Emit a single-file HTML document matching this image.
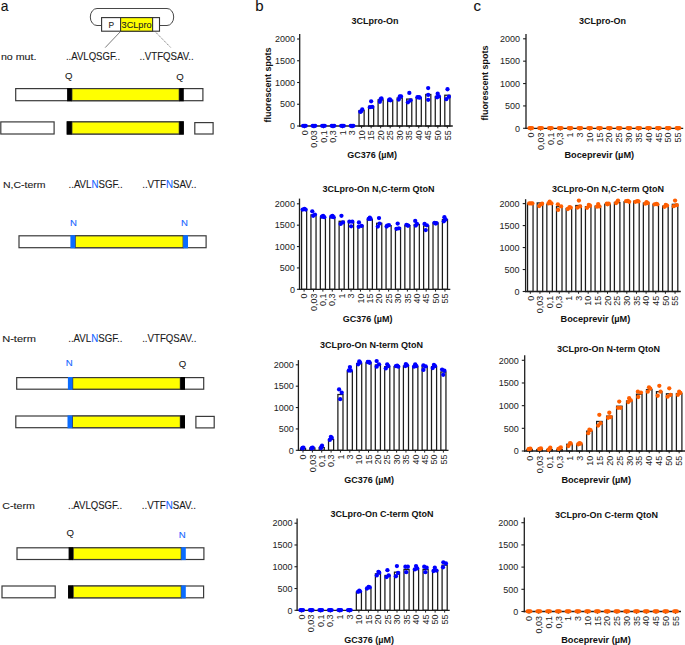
<!DOCTYPE html>
<html><head><meta charset="utf-8"><style>
html,body{margin:0;padding:0;background:#fff;}
body{width:685px;height:645px;overflow:hidden;}
svg{display:block;font-family:"Liberation Sans", sans-serif;}
</style></head><body>
<svg width="685" height="645" viewBox="0 0 685 645">
<rect width="685" height="645" fill="#fff"/>
<text x="0.7" y="10.8" font-size="15" fill="#111" stroke="#111" stroke-width="0.1" text-anchor="start" textLength="7.7" lengthAdjust="spacingAndGlyphs">a</text>
<text x="255.2" y="10.8" font-size="15" fill="#111" stroke="#111" stroke-width="0.1" text-anchor="start">b</text>
<text x="473.6" y="10.8" font-size="15" fill="#111" stroke="#111" stroke-width="0.1" text-anchor="start">c</text>
<path d="M101.5 25.5 H97 A6.7 8.5 0 0 1 97 8.5 H167 A6.7 8.5 0 0 1 167 25.5 H159.5" fill="none" stroke="#333" stroke-width="0.9"/>
<rect x="101.6" y="17.6" width="57.9" height="13.6" fill="#fff" stroke="#333" stroke-width="1.1"/>
<rect x="120.6" y="17.6" width="32.0" height="13.6" fill="#ffff00" stroke="#333" stroke-width="1.1"/>
<text x="108.6" y="27.8" font-size="9.5" fill="#222" stroke="#222" stroke-width="0.1" text-anchor="start" textLength="5.6" lengthAdjust="spacingAndGlyphs">P</text>
<text x="121.6" y="27.8" font-size="9.7" fill="#222" stroke="#222" stroke-width="0.1" text-anchor="start" textLength="30" lengthAdjust="spacingAndGlyphs">3CLpro</text>
<line x1="120.5" y1="31.5" x2="105.2" y2="47.6" stroke="#444" stroke-width="0.7"/>
<line x1="155" y1="31.5" x2="170.8" y2="47.6" stroke="#444" stroke-width="0.7" stroke-dasharray="1.3 0.9"/>
<text x="0.9" y="60" font-size="9.9" fill="#1a1a1a" stroke="#1a1a1a" stroke-width="0.1" text-anchor="start" textLength="35.6" lengthAdjust="spacingAndGlyphs">no mut.</text>
<text x="65.9" y="60" font-size="10.2" fill="#1a1a1a" stroke="#1a1a1a" stroke-width="0.1" text-anchor="start" textLength="54.2" lengthAdjust="spacingAndGlyphs">..AVLQSGF..</text>
<text x="139.5" y="60" font-size="10.2" fill="#1a1a1a" stroke="#1a1a1a" stroke-width="0.1" text-anchor="start" textLength="54.2" lengthAdjust="spacingAndGlyphs">..VTFQSAV..</text>
<text x="65" y="79.4" font-size="9.6" fill="#1a1a1a" stroke="#1a1a1a" stroke-width="0.1" text-anchor="start">Q</text>
<text x="176.3" y="80" font-size="9.6" fill="#1a1a1a" stroke="#1a1a1a" stroke-width="0.1" text-anchor="start">Q</text>
<rect x="15.7" y="88.6" width="187.2" height="12.1" fill="#fff" stroke="#3a3a3a" stroke-width="1.2"/>
<rect x="71.8" y="88.6" width="107.5" height="12.1" fill="#ffff00" stroke="#3a3a3a" stroke-width="1.2"/>
<rect x="67.1" y="88" width="4.7" height="13.3" fill="#000"/>
<rect x="179.3" y="88" width="4.5" height="13.3" fill="#000"/>
<rect x="0.8" y="121.9" width="53.3" height="12.1" fill="#fff" stroke="#3a3a3a" stroke-width="1.2"/>
<rect x="67.3" y="121.9" width="115.9" height="12.1" fill="#fff" stroke="#3a3a3a" stroke-width="1.2"/>
<rect x="71.8" y="121.9" width="107.5" height="12.1" fill="#ffff00" stroke="#3a3a3a" stroke-width="1.2"/>
<rect x="66.7" y="121.3" width="5.1" height="13.3" fill="#000"/>
<rect x="179.3" y="121.3" width="4.5" height="13.3" fill="#000"/>
<rect x="194.8" y="122.6" width="18.3" height="11.4" fill="#fff" stroke="#3a3a3a" stroke-width="1.2"/>
<text x="2.9" y="188.1" font-size="9.9" fill="#1a1a1a" stroke="#1a1a1a" stroke-width="0.1" text-anchor="start" textLength="42.6" lengthAdjust="spacingAndGlyphs">N,C-term</text>
<text x="68.5" y="188.1" font-size="10.2" fill="#1a1a1a" stroke="#1a1a1a" stroke-width="0.1" textLength="54.2" lengthAdjust="spacingAndGlyphs">..AVL<tspan fill="#1464ff" stroke="#1464ff">N</tspan>SGF..</text>
<text x="142.2" y="188.1" font-size="10.2" fill="#1a1a1a" stroke="#1a1a1a" stroke-width="0.1" textLength="54.2" lengthAdjust="spacingAndGlyphs">..VTF<tspan fill="#1464ff" stroke="#1464ff">N</tspan>SAV..</text>
<text x="70" y="225.8" font-size="9.6" fill="#1464ff" stroke="#1464ff" stroke-width="0.1" text-anchor="start">N</text>
<text x="181" y="225.8" font-size="9.6" fill="#1464ff" stroke="#1464ff" stroke-width="0.1" text-anchor="start">N</text>
<rect x="19" y="235.8" width="187.1" height="11.9" fill="#fff" stroke="#3a3a3a" stroke-width="1.2"/>
<rect x="75.2" y="235.8" width="108" height="11.9" fill="#ffff00" stroke="#3a3a3a" stroke-width="1.2"/>
<rect x="70.4" y="235.2" width="4.8" height="13.1" fill="#0a6cff"/>
<rect x="183.2" y="235.2" width="4.8" height="13.1" fill="#0a6cff"/>
<text x="2.2" y="342.3" font-size="9.9" fill="#1a1a1a" stroke="#1a1a1a" stroke-width="0.1" text-anchor="start" textLength="33.8" lengthAdjust="spacingAndGlyphs">N-term</text>
<text x="68.2" y="342.3" font-size="10.2" fill="#1a1a1a" stroke="#1a1a1a" stroke-width="0.1" textLength="54.2" lengthAdjust="spacingAndGlyphs">..AVL<tspan fill="#1464ff" stroke="#1464ff">N</tspan>SGF..</text>
<text x="142.2" y="342.3" font-size="10.2" fill="#1a1a1a" stroke="#1a1a1a" stroke-width="0.1" text-anchor="start" textLength="54.2" lengthAdjust="spacingAndGlyphs">..VTFQSAV..</text>
<text x="65.8" y="365.9" font-size="9.6" fill="#1464ff" stroke="#1464ff" stroke-width="0.1" text-anchor="start">N</text>
<text x="178.7" y="367" font-size="9.6" fill="#1a1a1a" stroke="#1a1a1a" stroke-width="0.1" text-anchor="start">Q</text>
<rect x="16.7" y="377.6" width="187" height="11.6" fill="#fff" stroke="#3a3a3a" stroke-width="1.2"/>
<rect x="72.6" y="377.6" width="107.8" height="11.6" fill="#ffff00" stroke="#3a3a3a" stroke-width="1.2"/>
<rect x="67.9" y="377" width="4.7" height="12.8" fill="#0a6cff"/>
<rect x="180.4" y="377" width="4.6" height="12.8" fill="#000"/>
<rect x="15.8" y="416" width="168.6" height="11.7" fill="#fff" stroke="#3a3a3a" stroke-width="1.2"/>
<rect x="72.4" y="416" width="108" height="11.7" fill="#ffff00" stroke="#3a3a3a" stroke-width="1.2"/>
<rect x="67.5" y="415.4" width="4.9" height="12.9" fill="#0a6cff"/>
<rect x="180.4" y="415.4" width="4.6" height="12.9" fill="#000"/>
<rect x="195.9" y="416.4" width="18.3" height="11.5" fill="#fff" stroke="#3a3a3a" stroke-width="1.2"/>
<text x="2.3" y="509.2" font-size="9.9" fill="#1a1a1a" stroke="#1a1a1a" stroke-width="0.1" text-anchor="start" textLength="32.5" lengthAdjust="spacingAndGlyphs">C-term</text>
<text x="68" y="509.2" font-size="10.2" fill="#1a1a1a" stroke="#1a1a1a" stroke-width="0.1" text-anchor="start" textLength="54.2" lengthAdjust="spacingAndGlyphs">..AVLQSGF..</text>
<text x="141.8" y="509.2" font-size="10.2" fill="#1a1a1a" stroke="#1a1a1a" stroke-width="0.1" textLength="54.2" lengthAdjust="spacingAndGlyphs">..VTF<tspan fill="#1464ff" stroke="#1464ff">N</tspan>SAV..</text>
<text x="66.4" y="536" font-size="9.6" fill="#1a1a1a" stroke="#1a1a1a" stroke-width="0.1" text-anchor="start">Q</text>
<text x="178.7" y="537.8" font-size="9.6" fill="#1464ff" stroke="#1464ff" stroke-width="0.1" text-anchor="start">N</text>
<rect x="17" y="547.8" width="186.9" height="11.7" fill="#fff" stroke="#3a3a3a" stroke-width="1.2"/>
<rect x="73.1" y="547.8" width="108.2" height="11.7" fill="#ffff00" stroke="#3a3a3a" stroke-width="1.2"/>
<rect x="68.6" y="547.2" width="4.5" height="12.9" fill="#000"/>
<rect x="181.3" y="547.2" width="4.5" height="12.9" fill="#0a6cff"/>
<rect x="2" y="586" width="53.2" height="11.8" fill="#fff" stroke="#3a3a3a" stroke-width="1.2"/>
<rect x="68.7" y="586" width="134.9" height="11.8" fill="#fff" stroke="#3a3a3a" stroke-width="1.2"/>
<rect x="73.1" y="586" width="108.2" height="11.8" fill="#ffff00" stroke="#3a3a3a" stroke-width="1.2"/>
<rect x="68.1" y="585.4" width="5" height="13" fill="#000"/>
<rect x="181.3" y="585.4" width="4.5" height="13" fill="#0a6cff"/>
<rect x="359.03" y="110.56" width="5.1" height="15.44" fill="#fff" stroke="#1c1c1c" stroke-width="1.25"/>
<rect x="368.56" y="106.42" width="5.1" height="19.58" fill="#fff" stroke="#1c1c1c" stroke-width="1.25"/>
<rect x="378.09" y="99.83" width="5.1" height="26.17" fill="#fff" stroke="#1c1c1c" stroke-width="1.25"/>
<rect x="387.62" y="100.29" width="5.1" height="25.71" fill="#fff" stroke="#1c1c1c" stroke-width="1.25"/>
<rect x="397.15" y="97.99" width="5.1" height="28.01" fill="#fff" stroke="#1c1c1c" stroke-width="1.25"/>
<rect x="406.68" y="99.06" width="5.1" height="26.94" fill="#fff" stroke="#1c1c1c" stroke-width="1.25"/>
<rect x="416.21" y="97.69" width="5.1" height="28.31" fill="#fff" stroke="#1c1c1c" stroke-width="1.25"/>
<rect x="425.74" y="94.47" width="5.1" height="31.53" fill="#fff" stroke="#1c1c1c" stroke-width="1.25"/>
<rect x="435.27" y="96.46" width="5.1" height="29.54" fill="#fff" stroke="#1c1c1c" stroke-width="1.25"/>
<rect x="444.8" y="95.23" width="5.1" height="30.77" fill="#fff" stroke="#1c1c1c" stroke-width="1.25"/>
<line x1="299.7" y1="33.9" x2="299.7" y2="126.65" stroke="#1e1e1e" stroke-width="1.3"/>
<line x1="299.05" y1="126" x2="452.8" y2="126" stroke="#1e1e1e" stroke-width="1.3"/>
<line x1="297.1" y1="126" x2="299.7" y2="126" stroke="#1e1e1e" stroke-width="1.1"/>
<text x="295.1" y="129.2" text-anchor="end" font-size="9" fill="#222">0</text>
<line x1="297.1" y1="104.25" x2="299.7" y2="104.25" stroke="#1e1e1e" stroke-width="1.1"/>
<text x="295.1" y="107.45" text-anchor="end" font-size="9" fill="#222">500</text>
<line x1="297.1" y1="82.5" x2="299.7" y2="82.5" stroke="#1e1e1e" stroke-width="1.1"/>
<text x="295.1" y="85.7" text-anchor="end" font-size="9" fill="#222">1000</text>
<line x1="297.1" y1="60.75" x2="299.7" y2="60.75" stroke="#1e1e1e" stroke-width="1.1"/>
<text x="295.1" y="63.95" text-anchor="end" font-size="9" fill="#222">1500</text>
<line x1="297.1" y1="39" x2="299.7" y2="39" stroke="#1e1e1e" stroke-width="1.1"/>
<text x="295.1" y="42.2" text-anchor="end" font-size="9" fill="#222">2000</text>
<line x1="304.4" y1="126" x2="304.4" y2="128.3" stroke="#1e1e1e" stroke-width="1"/>
<text transform="translate(307.6 130.3) rotate(-90)" text-anchor="end" font-size="9" fill="#222">0</text>
<line x1="313.93" y1="126" x2="313.93" y2="128.3" stroke="#1e1e1e" stroke-width="1"/>
<text transform="translate(317.13 130.3) rotate(-90)" text-anchor="end" font-size="9" fill="#222">0,03</text>
<line x1="323.46" y1="126" x2="323.46" y2="128.3" stroke="#1e1e1e" stroke-width="1"/>
<text transform="translate(326.66 130.3) rotate(-90)" text-anchor="end" font-size="9" fill="#222">0,1</text>
<line x1="332.99" y1="126" x2="332.99" y2="128.3" stroke="#1e1e1e" stroke-width="1"/>
<text transform="translate(336.19 130.3) rotate(-90)" text-anchor="end" font-size="9" fill="#222">0,3</text>
<line x1="342.52" y1="126" x2="342.52" y2="128.3" stroke="#1e1e1e" stroke-width="1"/>
<text transform="translate(345.72 130.3) rotate(-90)" text-anchor="end" font-size="9" fill="#222">1</text>
<line x1="352.05" y1="126" x2="352.05" y2="128.3" stroke="#1e1e1e" stroke-width="1"/>
<text transform="translate(355.25 130.3) rotate(-90)" text-anchor="end" font-size="9" fill="#222">3</text>
<line x1="361.58" y1="126" x2="361.58" y2="128.3" stroke="#1e1e1e" stroke-width="1"/>
<text transform="translate(364.78 130.3) rotate(-90)" text-anchor="end" font-size="9" fill="#222">10</text>
<line x1="371.11" y1="126" x2="371.11" y2="128.3" stroke="#1e1e1e" stroke-width="1"/>
<text transform="translate(374.31 130.3) rotate(-90)" text-anchor="end" font-size="9" fill="#222">15</text>
<line x1="380.64" y1="126" x2="380.64" y2="128.3" stroke="#1e1e1e" stroke-width="1"/>
<text transform="translate(383.84 130.3) rotate(-90)" text-anchor="end" font-size="9" fill="#222">20</text>
<line x1="390.17" y1="126" x2="390.17" y2="128.3" stroke="#1e1e1e" stroke-width="1"/>
<text transform="translate(393.37 130.3) rotate(-90)" text-anchor="end" font-size="9" fill="#222">25</text>
<line x1="399.7" y1="126" x2="399.7" y2="128.3" stroke="#1e1e1e" stroke-width="1"/>
<text transform="translate(402.9 130.3) rotate(-90)" text-anchor="end" font-size="9" fill="#222">30</text>
<line x1="409.23" y1="126" x2="409.23" y2="128.3" stroke="#1e1e1e" stroke-width="1"/>
<text transform="translate(412.43 130.3) rotate(-90)" text-anchor="end" font-size="9" fill="#222">35</text>
<line x1="418.76" y1="126" x2="418.76" y2="128.3" stroke="#1e1e1e" stroke-width="1"/>
<text transform="translate(421.96 130.3) rotate(-90)" text-anchor="end" font-size="9" fill="#222">40</text>
<line x1="428.29" y1="126" x2="428.29" y2="128.3" stroke="#1e1e1e" stroke-width="1"/>
<text transform="translate(431.49 130.3) rotate(-90)" text-anchor="end" font-size="9" fill="#222">45</text>
<line x1="437.82" y1="126" x2="437.82" y2="128.3" stroke="#1e1e1e" stroke-width="1"/>
<text transform="translate(441.02 130.3) rotate(-90)" text-anchor="end" font-size="9" fill="#222">50</text>
<line x1="447.35" y1="126" x2="447.35" y2="128.3" stroke="#1e1e1e" stroke-width="1"/>
<text transform="translate(450.55 130.3) rotate(-90)" text-anchor="end" font-size="9" fill="#222">55</text>
<circle cx="303.1" cy="125.8" r="2.15" fill="#0000ff"/>
<circle cx="304.4" cy="125.8" r="2.15" fill="#0000ff"/>
<circle cx="305.7" cy="125.8" r="2.15" fill="#0000ff"/>
<circle cx="312.63" cy="125.8" r="2.15" fill="#0000ff"/>
<circle cx="313.93" cy="125.8" r="2.15" fill="#0000ff"/>
<circle cx="315.23" cy="125.8" r="2.15" fill="#0000ff"/>
<circle cx="322.16" cy="125.8" r="2.15" fill="#0000ff"/>
<circle cx="323.46" cy="125.8" r="2.15" fill="#0000ff"/>
<circle cx="324.76" cy="125.8" r="2.15" fill="#0000ff"/>
<circle cx="331.69" cy="125.8" r="2.15" fill="#0000ff"/>
<circle cx="332.99" cy="125.8" r="2.15" fill="#0000ff"/>
<circle cx="334.29" cy="125.8" r="2.15" fill="#0000ff"/>
<circle cx="341.22" cy="125.8" r="2.15" fill="#0000ff"/>
<circle cx="342.52" cy="125.8" r="2.15" fill="#0000ff"/>
<circle cx="343.82" cy="125.8" r="2.15" fill="#0000ff"/>
<circle cx="350.75" cy="125.8" r="2.15" fill="#0000ff"/>
<circle cx="352.05" cy="125.8" r="2.15" fill="#0000ff"/>
<circle cx="353.35" cy="125.8" r="2.15" fill="#0000ff"/>
<circle cx="361.04" cy="111.48" r="2.15" fill="#0000ff"/>
<circle cx="362.26" cy="109.49" r="2.15" fill="#0000ff"/>
<circle cx="360.27" cy="111.79" r="2.15" fill="#0000ff"/>
<circle cx="371.15" cy="101.36" r="2.15" fill="#0000ff"/>
<circle cx="369.93" cy="107.19" r="2.15" fill="#0000ff"/>
<circle cx="372.23" cy="106.88" r="2.15" fill="#0000ff"/>
<circle cx="379.89" cy="101.82" r="2.15" fill="#0000ff"/>
<circle cx="381.42" cy="98.3" r="2.15" fill="#0000ff"/>
<circle cx="380.66" cy="99.22" r="2.15" fill="#0000ff"/>
<circle cx="389.85" cy="99.52" r="2.15" fill="#0000ff"/>
<circle cx="390.62" cy="100.29" r="2.15" fill="#0000ff"/>
<circle cx="389.09" cy="99.98" r="2.15" fill="#0000ff"/>
<circle cx="398.74" cy="99.52" r="2.15" fill="#0000ff"/>
<circle cx="399.82" cy="96.46" r="2.15" fill="#0000ff"/>
<circle cx="401.04" cy="96.46" r="2.15" fill="#0000ff"/>
<circle cx="409.32" cy="92.93" r="2.15" fill="#0000ff"/>
<circle cx="407.94" cy="102.28" r="2.15" fill="#0000ff"/>
<circle cx="410.55" cy="100.29" r="2.15" fill="#0000ff"/>
<circle cx="417.44" cy="97.23" r="2.15" fill="#0000ff"/>
<circle cx="418.98" cy="97.23" r="2.15" fill="#0000ff"/>
<circle cx="419.74" cy="97.69" r="2.15" fill="#0000ff"/>
<circle cx="428.17" cy="88.03" r="2.15" fill="#0000ff"/>
<circle cx="428.17" cy="94.93" r="2.15" fill="#0000ff"/>
<circle cx="428.17" cy="99.83" r="2.15" fill="#0000ff"/>
<circle cx="437.68" cy="93.7" r="2.15" fill="#0000ff"/>
<circle cx="437.06" cy="97.23" r="2.15" fill="#0000ff"/>
<circle cx="438.9" cy="96.46" r="2.15" fill="#0000ff"/>
<circle cx="447.49" cy="89.26" r="2.15" fill="#0000ff"/>
<circle cx="446.26" cy="99.22" r="2.15" fill="#0000ff"/>
<circle cx="448.87" cy="96.77" r="2.15" fill="#0000ff"/>
<text x="374.9" y="23.8" text-anchor="middle" font-size="9" font-weight="bold" fill="#111">3CLpro-On</text>
<text x="372.2" y="158.1" text-anchor="middle" font-size="9" font-weight="bold" fill="#111">GC376 (µM)</text>
<text transform="translate(271 85) rotate(-90)" text-anchor="middle" font-size="9" font-weight="bold" fill="#111">fluorescent spots</text>
<rect x="301.55" y="210.18" width="5.1" height="79.12" fill="#fff" stroke="#1c1c1c" stroke-width="1.25"/>
<rect x="310.94" y="214.85" width="5.1" height="74.45" fill="#fff" stroke="#1c1c1c" stroke-width="1.25"/>
<rect x="320.33" y="217.77" width="5.1" height="71.53" fill="#fff" stroke="#1c1c1c" stroke-width="1.25"/>
<rect x="329.72" y="217.77" width="5.1" height="71.53" fill="#fff" stroke="#1c1c1c" stroke-width="1.25"/>
<rect x="339.11" y="221.28" width="5.1" height="68.02" fill="#fff" stroke="#1c1c1c" stroke-width="1.25"/>
<rect x="348.5" y="222.45" width="5.1" height="66.85" fill="#fff" stroke="#1c1c1c" stroke-width="1.25"/>
<rect x="357.89" y="225.6" width="5.1" height="63.7" fill="#fff" stroke="#1c1c1c" stroke-width="1.25"/>
<rect x="367.28" y="219.53" width="5.1" height="69.77" fill="#fff" stroke="#1c1c1c" stroke-width="1.25"/>
<rect x="376.67" y="223.26" width="5.1" height="66.04" fill="#fff" stroke="#1c1c1c" stroke-width="1.25"/>
<rect x="386.06" y="225.6" width="5.1" height="63.7" fill="#fff" stroke="#1c1c1c" stroke-width="1.25"/>
<rect x="395.45" y="227.7" width="5.1" height="61.6" fill="#fff" stroke="#1c1c1c" stroke-width="1.25"/>
<rect x="404.84" y="225.6" width="5.1" height="63.7" fill="#fff" stroke="#1c1c1c" stroke-width="1.25"/>
<rect x="414.23" y="224.43" width="5.1" height="64.87" fill="#fff" stroke="#1c1c1c" stroke-width="1.25"/>
<rect x="423.62" y="225.95" width="5.1" height="63.35" fill="#fff" stroke="#1c1c1c" stroke-width="1.25"/>
<rect x="433.01" y="223.03" width="5.1" height="66.27" fill="#fff" stroke="#1c1c1c" stroke-width="1.25"/>
<rect x="442.4" y="219.53" width="5.1" height="69.77" fill="#fff" stroke="#1c1c1c" stroke-width="1.25"/>
<line x1="299.5" y1="198.6" x2="299.5" y2="289.95" stroke="#1e1e1e" stroke-width="1.3"/>
<line x1="298.85" y1="289.3" x2="450.3" y2="289.3" stroke="#1e1e1e" stroke-width="1.3"/>
<line x1="296.9" y1="289.3" x2="299.5" y2="289.3" stroke="#1e1e1e" stroke-width="1.1"/>
<text x="294.9" y="292.5" text-anchor="end" font-size="9" fill="#222">0</text>
<line x1="296.9" y1="267.93" x2="299.5" y2="267.93" stroke="#1e1e1e" stroke-width="1.1"/>
<text x="294.9" y="271.12" text-anchor="end" font-size="9" fill="#222">500</text>
<line x1="296.9" y1="246.55" x2="299.5" y2="246.55" stroke="#1e1e1e" stroke-width="1.1"/>
<text x="294.9" y="249.75" text-anchor="end" font-size="9" fill="#222">1000</text>
<line x1="296.9" y1="225.18" x2="299.5" y2="225.18" stroke="#1e1e1e" stroke-width="1.1"/>
<text x="294.9" y="228.38" text-anchor="end" font-size="9" fill="#222">1500</text>
<line x1="296.9" y1="203.8" x2="299.5" y2="203.8" stroke="#1e1e1e" stroke-width="1.1"/>
<text x="294.9" y="207" text-anchor="end" font-size="9" fill="#222">2000</text>
<line x1="304.1" y1="289.3" x2="304.1" y2="291.6" stroke="#1e1e1e" stroke-width="1"/>
<text transform="translate(307.3 293.5) rotate(-90)" text-anchor="end" font-size="9" fill="#222">0</text>
<line x1="313.49" y1="289.3" x2="313.49" y2="291.6" stroke="#1e1e1e" stroke-width="1"/>
<text transform="translate(316.69 293.5) rotate(-90)" text-anchor="end" font-size="9" fill="#222">0,03</text>
<line x1="322.88" y1="289.3" x2="322.88" y2="291.6" stroke="#1e1e1e" stroke-width="1"/>
<text transform="translate(326.08 293.5) rotate(-90)" text-anchor="end" font-size="9" fill="#222">0,1</text>
<line x1="332.27" y1="289.3" x2="332.27" y2="291.6" stroke="#1e1e1e" stroke-width="1"/>
<text transform="translate(335.47 293.5) rotate(-90)" text-anchor="end" font-size="9" fill="#222">0,3</text>
<line x1="341.66" y1="289.3" x2="341.66" y2="291.6" stroke="#1e1e1e" stroke-width="1"/>
<text transform="translate(344.86 293.5) rotate(-90)" text-anchor="end" font-size="9" fill="#222">1</text>
<line x1="351.05" y1="289.3" x2="351.05" y2="291.6" stroke="#1e1e1e" stroke-width="1"/>
<text transform="translate(354.25 293.5) rotate(-90)" text-anchor="end" font-size="9" fill="#222">3</text>
<line x1="360.44" y1="289.3" x2="360.44" y2="291.6" stroke="#1e1e1e" stroke-width="1"/>
<text transform="translate(363.64 293.5) rotate(-90)" text-anchor="end" font-size="9" fill="#222">10</text>
<line x1="369.83" y1="289.3" x2="369.83" y2="291.6" stroke="#1e1e1e" stroke-width="1"/>
<text transform="translate(373.03 293.5) rotate(-90)" text-anchor="end" font-size="9" fill="#222">15</text>
<line x1="379.22" y1="289.3" x2="379.22" y2="291.6" stroke="#1e1e1e" stroke-width="1"/>
<text transform="translate(382.42 293.5) rotate(-90)" text-anchor="end" font-size="9" fill="#222">20</text>
<line x1="388.61" y1="289.3" x2="388.61" y2="291.6" stroke="#1e1e1e" stroke-width="1"/>
<text transform="translate(391.81 293.5) rotate(-90)" text-anchor="end" font-size="9" fill="#222">25</text>
<line x1="398" y1="289.3" x2="398" y2="291.6" stroke="#1e1e1e" stroke-width="1"/>
<text transform="translate(401.2 293.5) rotate(-90)" text-anchor="end" font-size="9" fill="#222">30</text>
<line x1="407.39" y1="289.3" x2="407.39" y2="291.6" stroke="#1e1e1e" stroke-width="1"/>
<text transform="translate(410.59 293.5) rotate(-90)" text-anchor="end" font-size="9" fill="#222">35</text>
<line x1="416.78" y1="289.3" x2="416.78" y2="291.6" stroke="#1e1e1e" stroke-width="1"/>
<text transform="translate(419.98 293.5) rotate(-90)" text-anchor="end" font-size="9" fill="#222">40</text>
<line x1="426.17" y1="289.3" x2="426.17" y2="291.6" stroke="#1e1e1e" stroke-width="1"/>
<text transform="translate(429.37 293.5) rotate(-90)" text-anchor="end" font-size="9" fill="#222">45</text>
<line x1="435.56" y1="289.3" x2="435.56" y2="291.6" stroke="#1e1e1e" stroke-width="1"/>
<text transform="translate(438.76 293.5) rotate(-90)" text-anchor="end" font-size="9" fill="#222">50</text>
<line x1="444.95" y1="289.3" x2="444.95" y2="291.6" stroke="#1e1e1e" stroke-width="1"/>
<text transform="translate(448.15 293.5) rotate(-90)" text-anchor="end" font-size="9" fill="#222">55</text>
<circle cx="302.67" cy="209.6" r="2.15" fill="#0000ff"/>
<circle cx="304.42" cy="208.78" r="2.15" fill="#0000ff"/>
<circle cx="305.59" cy="209.6" r="2.15" fill="#0000ff"/>
<circle cx="312.25" cy="211.35" r="2.15" fill="#0000ff"/>
<circle cx="313.18" cy="215.79" r="2.15" fill="#0000ff"/>
<circle cx="314.93" cy="214.62" r="2.15" fill="#0000ff"/>
<circle cx="321.94" cy="216.61" r="2.15" fill="#0000ff"/>
<circle cx="323.11" cy="215.79" r="2.15" fill="#0000ff"/>
<circle cx="324.28" cy="217.19" r="2.15" fill="#0000ff"/>
<circle cx="331.28" cy="216.61" r="2.15" fill="#0000ff"/>
<circle cx="332.45" cy="215.79" r="2.15" fill="#0000ff"/>
<circle cx="333.62" cy="217.19" r="2.15" fill="#0000ff"/>
<circle cx="341.45" cy="215.79" r="2.15" fill="#0000ff"/>
<circle cx="340.63" cy="223.96" r="2.15" fill="#0000ff"/>
<circle cx="342.96" cy="222.45" r="2.15" fill="#0000ff"/>
<circle cx="349.39" cy="221.63" r="2.15" fill="#0000ff"/>
<circle cx="352.31" cy="221.63" r="2.15" fill="#0000ff"/>
<circle cx="351.14" cy="226.3" r="2.15" fill="#0000ff"/>
<circle cx="358.96" cy="222.45" r="2.15" fill="#0000ff"/>
<circle cx="358.73" cy="226.77" r="2.15" fill="#0000ff"/>
<circle cx="361.65" cy="225.95" r="2.15" fill="#0000ff"/>
<circle cx="368.66" cy="218.94" r="2.15" fill="#0000ff"/>
<circle cx="369.82" cy="217.77" r="2.15" fill="#0000ff"/>
<circle cx="370.64" cy="218.94" r="2.15" fill="#0000ff"/>
<circle cx="379.01" cy="218.12" r="2.15" fill="#0000ff"/>
<circle cx="379.59" cy="223.61" r="2.15" fill="#0000ff"/>
<circle cx="377.84" cy="226.53" r="2.15" fill="#0000ff"/>
<circle cx="387.18" cy="225.6" r="2.15" fill="#0000ff"/>
<circle cx="388.93" cy="225.13" r="2.15" fill="#0000ff"/>
<circle cx="386.6" cy="226.53" r="2.15" fill="#0000ff"/>
<circle cx="397.69" cy="223.61" r="2.15" fill="#0000ff"/>
<circle cx="396.53" cy="228.87" r="2.15" fill="#0000ff"/>
<circle cx="398.86" cy="228.28" r="2.15" fill="#0000ff"/>
<circle cx="406.45" cy="224.78" r="2.15" fill="#0000ff"/>
<circle cx="407.62" cy="225.6" r="2.15" fill="#0000ff"/>
<circle cx="408.2" cy="225.6" r="2.15" fill="#0000ff"/>
<circle cx="415.21" cy="220.93" r="2.15" fill="#0000ff"/>
<circle cx="415.8" cy="225.6" r="2.15" fill="#0000ff"/>
<circle cx="416.96" cy="223.96" r="2.15" fill="#0000ff"/>
<circle cx="424.55" cy="223.96" r="2.15" fill="#0000ff"/>
<circle cx="425.72" cy="230.04" r="2.15" fill="#0000ff"/>
<circle cx="426.89" cy="225.36" r="2.15" fill="#0000ff"/>
<circle cx="434.48" cy="222.8" r="2.15" fill="#0000ff"/>
<circle cx="435.65" cy="223.61" r="2.15" fill="#0000ff"/>
<circle cx="436.47" cy="223.03" r="2.15" fill="#0000ff"/>
<circle cx="444.41" cy="217.19" r="2.15" fill="#0000ff"/>
<circle cx="445.58" cy="219.53" r="2.15" fill="#0000ff"/>
<circle cx="443.82" cy="221.28" r="2.15" fill="#0000ff"/>
<text x="378.5" y="192" text-anchor="middle" font-size="9" font-weight="bold" fill="#111">3CLpro-On N,C-term QtoN</text>
<text x="367.6" y="321.5" text-anchor="middle" font-size="9" font-weight="bold" fill="#111">GC376 (µM)</text>
<rect x="300.45" y="448.49" width="5.1" height="1.81" fill="#fff" stroke="#1c1c1c" stroke-width="1.25"/>
<rect x="309.81" y="448.02" width="5.1" height="2.28" fill="#fff" stroke="#1c1c1c" stroke-width="1.25"/>
<rect x="319.17" y="447.56" width="5.1" height="2.74" fill="#fff" stroke="#1c1c1c" stroke-width="1.25"/>
<rect x="328.53" y="439.5" width="5.1" height="10.8" fill="#fff" stroke="#1c1c1c" stroke-width="1.25"/>
<rect x="337.89" y="394.53" width="5.1" height="55.77" fill="#fff" stroke="#1c1c1c" stroke-width="1.25"/>
<rect x="347.25" y="371.28" width="5.1" height="79.02" fill="#fff" stroke="#1c1c1c" stroke-width="1.25"/>
<rect x="356.61" y="363.53" width="5.1" height="86.77" fill="#fff" stroke="#1c1c1c" stroke-width="1.25"/>
<rect x="365.97" y="362.75" width="5.1" height="87.55" fill="#fff" stroke="#1c1c1c" stroke-width="1.25"/>
<rect x="375.33" y="364.93" width="5.1" height="85.37" fill="#fff" stroke="#1c1c1c" stroke-width="1.25"/>
<rect x="384.69" y="366.68" width="5.1" height="83.62" fill="#fff" stroke="#1c1c1c" stroke-width="1.25"/>
<rect x="394.05" y="366.68" width="5.1" height="83.62" fill="#fff" stroke="#1c1c1c" stroke-width="1.25"/>
<rect x="403.41" y="366.09" width="5.1" height="84.21" fill="#fff" stroke="#1c1c1c" stroke-width="1.25"/>
<rect x="412.77" y="366.68" width="5.1" height="83.62" fill="#fff" stroke="#1c1c1c" stroke-width="1.25"/>
<rect x="422.13" y="366.68" width="5.1" height="83.62" fill="#fff" stroke="#1c1c1c" stroke-width="1.25"/>
<rect x="431.49" y="366.68" width="5.1" height="83.62" fill="#fff" stroke="#1c1c1c" stroke-width="1.25"/>
<rect x="440.85" y="371.93" width="5.1" height="78.37" fill="#fff" stroke="#1c1c1c" stroke-width="1.25"/>
<line x1="298.4" y1="360.1" x2="298.4" y2="450.95" stroke="#1e1e1e" stroke-width="1.3"/>
<line x1="297.75" y1="450.3" x2="448.5" y2="450.3" stroke="#1e1e1e" stroke-width="1.3"/>
<line x1="295.8" y1="450.3" x2="298.4" y2="450.3" stroke="#1e1e1e" stroke-width="1.1"/>
<text x="293.8" y="453.5" text-anchor="end" font-size="9" fill="#222">0</text>
<line x1="295.8" y1="428.93" x2="298.4" y2="428.93" stroke="#1e1e1e" stroke-width="1.1"/>
<text x="293.8" y="432.12" text-anchor="end" font-size="9" fill="#222">500</text>
<line x1="295.8" y1="407.55" x2="298.4" y2="407.55" stroke="#1e1e1e" stroke-width="1.1"/>
<text x="293.8" y="410.75" text-anchor="end" font-size="9" fill="#222">1000</text>
<line x1="295.8" y1="386.18" x2="298.4" y2="386.18" stroke="#1e1e1e" stroke-width="1.1"/>
<text x="293.8" y="389.38" text-anchor="end" font-size="9" fill="#222">1500</text>
<line x1="295.8" y1="364.8" x2="298.4" y2="364.8" stroke="#1e1e1e" stroke-width="1.1"/>
<text x="293.8" y="368" text-anchor="end" font-size="9" fill="#222">2000</text>
<line x1="303" y1="450.3" x2="303" y2="452.6" stroke="#1e1e1e" stroke-width="1"/>
<text transform="translate(306.2 454.6) rotate(-90)" text-anchor="end" font-size="9" fill="#222">0</text>
<line x1="312.36" y1="450.3" x2="312.36" y2="452.6" stroke="#1e1e1e" stroke-width="1"/>
<text transform="translate(315.56 454.6) rotate(-90)" text-anchor="end" font-size="9" fill="#222">0,03</text>
<line x1="321.72" y1="450.3" x2="321.72" y2="452.6" stroke="#1e1e1e" stroke-width="1"/>
<text transform="translate(324.92 454.6) rotate(-90)" text-anchor="end" font-size="9" fill="#222">0,1</text>
<line x1="331.08" y1="450.3" x2="331.08" y2="452.6" stroke="#1e1e1e" stroke-width="1"/>
<text transform="translate(334.28 454.6) rotate(-90)" text-anchor="end" font-size="9" fill="#222">0,3</text>
<line x1="340.44" y1="450.3" x2="340.44" y2="452.6" stroke="#1e1e1e" stroke-width="1"/>
<text transform="translate(343.64 454.6) rotate(-90)" text-anchor="end" font-size="9" fill="#222">1</text>
<line x1="349.8" y1="450.3" x2="349.8" y2="452.6" stroke="#1e1e1e" stroke-width="1"/>
<text transform="translate(353 454.6) rotate(-90)" text-anchor="end" font-size="9" fill="#222">3</text>
<line x1="359.16" y1="450.3" x2="359.16" y2="452.6" stroke="#1e1e1e" stroke-width="1"/>
<text transform="translate(362.36 454.6) rotate(-90)" text-anchor="end" font-size="9" fill="#222">10</text>
<line x1="368.52" y1="450.3" x2="368.52" y2="452.6" stroke="#1e1e1e" stroke-width="1"/>
<text transform="translate(371.72 454.6) rotate(-90)" text-anchor="end" font-size="9" fill="#222">15</text>
<line x1="377.88" y1="450.3" x2="377.88" y2="452.6" stroke="#1e1e1e" stroke-width="1"/>
<text transform="translate(381.08 454.6) rotate(-90)" text-anchor="end" font-size="9" fill="#222">20</text>
<line x1="387.24" y1="450.3" x2="387.24" y2="452.6" stroke="#1e1e1e" stroke-width="1"/>
<text transform="translate(390.44 454.6) rotate(-90)" text-anchor="end" font-size="9" fill="#222">25</text>
<line x1="396.6" y1="450.3" x2="396.6" y2="452.6" stroke="#1e1e1e" stroke-width="1"/>
<text transform="translate(399.8 454.6) rotate(-90)" text-anchor="end" font-size="9" fill="#222">30</text>
<line x1="405.96" y1="450.3" x2="405.96" y2="452.6" stroke="#1e1e1e" stroke-width="1"/>
<text transform="translate(409.16 454.6) rotate(-90)" text-anchor="end" font-size="9" fill="#222">35</text>
<line x1="415.32" y1="450.3" x2="415.32" y2="452.6" stroke="#1e1e1e" stroke-width="1"/>
<text transform="translate(418.52 454.6) rotate(-90)" text-anchor="end" font-size="9" fill="#222">40</text>
<line x1="424.68" y1="450.3" x2="424.68" y2="452.6" stroke="#1e1e1e" stroke-width="1"/>
<text transform="translate(427.88 454.6) rotate(-90)" text-anchor="end" font-size="9" fill="#222">45</text>
<line x1="434.04" y1="450.3" x2="434.04" y2="452.6" stroke="#1e1e1e" stroke-width="1"/>
<text transform="translate(437.24 454.6) rotate(-90)" text-anchor="end" font-size="9" fill="#222">50</text>
<line x1="443.4" y1="450.3" x2="443.4" y2="452.6" stroke="#1e1e1e" stroke-width="1"/>
<text transform="translate(446.6 454.6) rotate(-90)" text-anchor="end" font-size="9" fill="#222">55</text>
<circle cx="302.65" cy="448.02" r="2.15" fill="#0000ff"/>
<circle cx="303.43" cy="447.71" r="2.15" fill="#0000ff"/>
<circle cx="302.34" cy="448.33" r="2.15" fill="#0000ff"/>
<circle cx="311.95" cy="448.02" r="2.15" fill="#0000ff"/>
<circle cx="312.73" cy="447.71" r="2.15" fill="#0000ff"/>
<circle cx="311.64" cy="448.33" r="2.15" fill="#0000ff"/>
<circle cx="321.26" cy="447.25" r="2.15" fill="#0000ff"/>
<circle cx="322.03" cy="445.7" r="2.15" fill="#0000ff"/>
<circle cx="320.95" cy="448.02" r="2.15" fill="#0000ff"/>
<circle cx="329.78" cy="439.96" r="2.15" fill="#0000ff"/>
<circle cx="330.87" cy="436.86" r="2.15" fill="#0000ff"/>
<circle cx="331.8" cy="437.95" r="2.15" fill="#0000ff"/>
<circle cx="339.09" cy="389.42" r="2.15" fill="#0000ff"/>
<circle cx="341.72" cy="392.67" r="2.15" fill="#0000ff"/>
<circle cx="340.17" cy="399.19" r="2.15" fill="#0000ff"/>
<circle cx="349.94" cy="367.09" r="2.15" fill="#0000ff"/>
<circle cx="348.85" cy="370.5" r="2.15" fill="#0000ff"/>
<circle cx="350.71" cy="370.5" r="2.15" fill="#0000ff"/>
<circle cx="359.24" cy="361.51" r="2.15" fill="#0000ff"/>
<circle cx="358.16" cy="364.3" r="2.15" fill="#0000ff"/>
<circle cx="360.02" cy="362.44" r="2.15" fill="#0000ff"/>
<circle cx="367.77" cy="361.98" r="2.15" fill="#0000ff"/>
<circle cx="369.01" cy="361.98" r="2.15" fill="#0000ff"/>
<circle cx="369.63" cy="362.75" r="2.15" fill="#0000ff"/>
<circle cx="376.67" cy="361.07" r="2.15" fill="#0000ff"/>
<circle cx="379.01" cy="364.34" r="2.15" fill="#0000ff"/>
<circle cx="376.67" cy="366.68" r="2.15" fill="#0000ff"/>
<circle cx="387.18" cy="364.34" r="2.15" fill="#0000ff"/>
<circle cx="388.35" cy="366.09" r="2.15" fill="#0000ff"/>
<circle cx="385.78" cy="368.43" r="2.15" fill="#0000ff"/>
<circle cx="395.94" cy="366.09" r="2.15" fill="#0000ff"/>
<circle cx="397.11" cy="365.74" r="2.15" fill="#0000ff"/>
<circle cx="398.28" cy="366.68" r="2.15" fill="#0000ff"/>
<circle cx="405.87" cy="364.11" r="2.15" fill="#0000ff"/>
<circle cx="405.28" cy="366.09" r="2.15" fill="#0000ff"/>
<circle cx="407.04" cy="365.28" r="2.15" fill="#0000ff"/>
<circle cx="415.21" cy="364.34" r="2.15" fill="#0000ff"/>
<circle cx="414.04" cy="366.68" r="2.15" fill="#0000ff"/>
<circle cx="416.38" cy="366.09" r="2.15" fill="#0000ff"/>
<circle cx="423.39" cy="365.51" r="2.15" fill="#0000ff"/>
<circle cx="425.72" cy="366.45" r="2.15" fill="#0000ff"/>
<circle cx="423.39" cy="369.95" r="2.15" fill="#0000ff"/>
<circle cx="433.9" cy="364.93" r="2.15" fill="#0000ff"/>
<circle cx="435.07" cy="366.09" r="2.15" fill="#0000ff"/>
<circle cx="432.73" cy="368.08" r="2.15" fill="#0000ff"/>
<circle cx="442.07" cy="369.6" r="2.15" fill="#0000ff"/>
<circle cx="444.41" cy="370.77" r="2.15" fill="#0000ff"/>
<circle cx="443.24" cy="374.85" r="2.15" fill="#0000ff"/>
<text x="371.5" y="348.4" text-anchor="middle" font-size="9" font-weight="bold" fill="#111">3CLpro-On N-term QtoN</text>
<text x="369.2" y="482.6" text-anchor="middle" font-size="9" font-weight="bold" fill="#111">GC376 (µM)</text>
<rect x="356.33" y="592.28" width="5.1" height="18.02" fill="#fff" stroke="#1c1c1c" stroke-width="1.25"/>
<rect x="365.86" y="588.52" width="5.1" height="21.78" fill="#fff" stroke="#1c1c1c" stroke-width="1.25"/>
<rect x="375.39" y="573.8" width="5.1" height="36.5" fill="#fff" stroke="#1c1c1c" stroke-width="1.25"/>
<rect x="384.92" y="575.44" width="5.1" height="34.86" fill="#fff" stroke="#1c1c1c" stroke-width="1.25"/>
<rect x="394.45" y="572.17" width="5.1" height="38.13" fill="#fff" stroke="#1c1c1c" stroke-width="1.25"/>
<rect x="403.98" y="569.39" width="5.1" height="40.91" fill="#fff" stroke="#1c1c1c" stroke-width="1.25"/>
<rect x="413.51" y="568.9" width="5.1" height="41.4" fill="#fff" stroke="#1c1c1c" stroke-width="1.25"/>
<rect x="423.04" y="569.39" width="5.1" height="40.91" fill="#fff" stroke="#1c1c1c" stroke-width="1.25"/>
<rect x="432.57" y="570.53" width="5.1" height="39.77" fill="#fff" stroke="#1c1c1c" stroke-width="1.25"/>
<rect x="442.1" y="565.14" width="5.1" height="45.16" fill="#fff" stroke="#1c1c1c" stroke-width="1.25"/>
<line x1="297.1" y1="518.6" x2="297.1" y2="610.95" stroke="#1e1e1e" stroke-width="1.3"/>
<line x1="296.45" y1="610.3" x2="449.7" y2="610.3" stroke="#1e1e1e" stroke-width="1.3"/>
<line x1="294.5" y1="610.3" x2="297.1" y2="610.3" stroke="#1e1e1e" stroke-width="1.1"/>
<text x="292.5" y="613.5" text-anchor="end" font-size="9" fill="#222">0</text>
<line x1="294.5" y1="588.52" x2="297.1" y2="588.52" stroke="#1e1e1e" stroke-width="1.1"/>
<text x="292.5" y="591.73" text-anchor="end" font-size="9" fill="#222">500</text>
<line x1="294.5" y1="566.75" x2="297.1" y2="566.75" stroke="#1e1e1e" stroke-width="1.1"/>
<text x="292.5" y="569.95" text-anchor="end" font-size="9" fill="#222">1000</text>
<line x1="294.5" y1="544.98" x2="297.1" y2="544.98" stroke="#1e1e1e" stroke-width="1.1"/>
<text x="292.5" y="548.18" text-anchor="end" font-size="9" fill="#222">1500</text>
<line x1="294.5" y1="523.2" x2="297.1" y2="523.2" stroke="#1e1e1e" stroke-width="1.1"/>
<text x="292.5" y="526.4" text-anchor="end" font-size="9" fill="#222">2000</text>
<line x1="301.7" y1="610.3" x2="301.7" y2="612.6" stroke="#1e1e1e" stroke-width="1"/>
<text transform="translate(304.9 614.6) rotate(-90)" text-anchor="end" font-size="9" fill="#222">0</text>
<line x1="311.23" y1="610.3" x2="311.23" y2="612.6" stroke="#1e1e1e" stroke-width="1"/>
<text transform="translate(314.43 614.6) rotate(-90)" text-anchor="end" font-size="9" fill="#222">0,03</text>
<line x1="320.76" y1="610.3" x2="320.76" y2="612.6" stroke="#1e1e1e" stroke-width="1"/>
<text transform="translate(323.96 614.6) rotate(-90)" text-anchor="end" font-size="9" fill="#222">0,1</text>
<line x1="330.29" y1="610.3" x2="330.29" y2="612.6" stroke="#1e1e1e" stroke-width="1"/>
<text transform="translate(333.49 614.6) rotate(-90)" text-anchor="end" font-size="9" fill="#222">0,3</text>
<line x1="339.82" y1="610.3" x2="339.82" y2="612.6" stroke="#1e1e1e" stroke-width="1"/>
<text transform="translate(343.02 614.6) rotate(-90)" text-anchor="end" font-size="9" fill="#222">1</text>
<line x1="349.35" y1="610.3" x2="349.35" y2="612.6" stroke="#1e1e1e" stroke-width="1"/>
<text transform="translate(352.55 614.6) rotate(-90)" text-anchor="end" font-size="9" fill="#222">3</text>
<line x1="358.88" y1="610.3" x2="358.88" y2="612.6" stroke="#1e1e1e" stroke-width="1"/>
<text transform="translate(362.08 614.6) rotate(-90)" text-anchor="end" font-size="9" fill="#222">10</text>
<line x1="368.41" y1="610.3" x2="368.41" y2="612.6" stroke="#1e1e1e" stroke-width="1"/>
<text transform="translate(371.61 614.6) rotate(-90)" text-anchor="end" font-size="9" fill="#222">15</text>
<line x1="377.94" y1="610.3" x2="377.94" y2="612.6" stroke="#1e1e1e" stroke-width="1"/>
<text transform="translate(381.14 614.6) rotate(-90)" text-anchor="end" font-size="9" fill="#222">20</text>
<line x1="387.47" y1="610.3" x2="387.47" y2="612.6" stroke="#1e1e1e" stroke-width="1"/>
<text transform="translate(390.67 614.6) rotate(-90)" text-anchor="end" font-size="9" fill="#222">25</text>
<line x1="397" y1="610.3" x2="397" y2="612.6" stroke="#1e1e1e" stroke-width="1"/>
<text transform="translate(400.2 614.6) rotate(-90)" text-anchor="end" font-size="9" fill="#222">30</text>
<line x1="406.53" y1="610.3" x2="406.53" y2="612.6" stroke="#1e1e1e" stroke-width="1"/>
<text transform="translate(409.73 614.6) rotate(-90)" text-anchor="end" font-size="9" fill="#222">35</text>
<line x1="416.06" y1="610.3" x2="416.06" y2="612.6" stroke="#1e1e1e" stroke-width="1"/>
<text transform="translate(419.26 614.6) rotate(-90)" text-anchor="end" font-size="9" fill="#222">40</text>
<line x1="425.59" y1="610.3" x2="425.59" y2="612.6" stroke="#1e1e1e" stroke-width="1"/>
<text transform="translate(428.79 614.6) rotate(-90)" text-anchor="end" font-size="9" fill="#222">45</text>
<line x1="435.12" y1="610.3" x2="435.12" y2="612.6" stroke="#1e1e1e" stroke-width="1"/>
<text transform="translate(438.32 614.6) rotate(-90)" text-anchor="end" font-size="9" fill="#222">50</text>
<line x1="444.65" y1="610.3" x2="444.65" y2="612.6" stroke="#1e1e1e" stroke-width="1"/>
<text transform="translate(447.85 614.6) rotate(-90)" text-anchor="end" font-size="9" fill="#222">55</text>
<circle cx="300.4" cy="610.1" r="2.15" fill="#0000ff"/>
<circle cx="301.7" cy="610.1" r="2.15" fill="#0000ff"/>
<circle cx="303" cy="610.1" r="2.15" fill="#0000ff"/>
<circle cx="309.93" cy="610.1" r="2.15" fill="#0000ff"/>
<circle cx="311.23" cy="610.1" r="2.15" fill="#0000ff"/>
<circle cx="312.53" cy="610.1" r="2.15" fill="#0000ff"/>
<circle cx="319.46" cy="610.1" r="2.15" fill="#0000ff"/>
<circle cx="320.76" cy="610.1" r="2.15" fill="#0000ff"/>
<circle cx="322.06" cy="610.1" r="2.15" fill="#0000ff"/>
<circle cx="328.99" cy="610.1" r="2.15" fill="#0000ff"/>
<circle cx="330.29" cy="610.1" r="2.15" fill="#0000ff"/>
<circle cx="331.59" cy="610.1" r="2.15" fill="#0000ff"/>
<circle cx="338.52" cy="610.1" r="2.15" fill="#0000ff"/>
<circle cx="339.82" cy="610.1" r="2.15" fill="#0000ff"/>
<circle cx="341.12" cy="610.1" r="2.15" fill="#0000ff"/>
<circle cx="348.05" cy="610.1" r="2.15" fill="#0000ff"/>
<circle cx="349.35" cy="610.1" r="2.15" fill="#0000ff"/>
<circle cx="350.65" cy="610.1" r="2.15" fill="#0000ff"/>
<circle cx="357.99" cy="591.79" r="2.15" fill="#0000ff"/>
<circle cx="359.29" cy="590.64" r="2.15" fill="#0000ff"/>
<circle cx="359.95" cy="591.3" r="2.15" fill="#0000ff"/>
<circle cx="366.98" cy="588.52" r="2.15" fill="#0000ff"/>
<circle cx="368.61" cy="586.88" r="2.15" fill="#0000ff"/>
<circle cx="369.76" cy="587.37" r="2.15" fill="#0000ff"/>
<circle cx="376.79" cy="575.44" r="2.15" fill="#0000ff"/>
<circle cx="378.42" cy="571.84" r="2.15" fill="#0000ff"/>
<circle cx="379.24" cy="572.66" r="2.15" fill="#0000ff"/>
<circle cx="387.42" cy="570.21" r="2.15" fill="#0000ff"/>
<circle cx="386.6" cy="577.07" r="2.15" fill="#0000ff"/>
<circle cx="388.72" cy="575.44" r="2.15" fill="#0000ff"/>
<circle cx="396.9" cy="566.12" r="2.15" fill="#0000ff"/>
<circle cx="395.92" cy="576.26" r="2.15" fill="#0000ff"/>
<circle cx="398.04" cy="572.99" r="2.15" fill="#0000ff"/>
<circle cx="405.4" cy="566.77" r="2.15" fill="#0000ff"/>
<circle cx="407.85" cy="566.77" r="2.15" fill="#0000ff"/>
<circle cx="406.22" cy="572.17" r="2.15" fill="#0000ff"/>
<circle cx="416.03" cy="566.12" r="2.15" fill="#0000ff"/>
<circle cx="414.89" cy="569.39" r="2.15" fill="#0000ff"/>
<circle cx="417.17" cy="568.41" r="2.15" fill="#0000ff"/>
<circle cx="424.21" cy="566.77" r="2.15" fill="#0000ff"/>
<circle cx="426.66" cy="567.75" r="2.15" fill="#0000ff"/>
<circle cx="425.35" cy="572.17" r="2.15" fill="#0000ff"/>
<circle cx="434.83" cy="567.75" r="2.15" fill="#0000ff"/>
<circle cx="433.53" cy="571.02" r="2.15" fill="#0000ff"/>
<circle cx="436.47" cy="570.53" r="2.15" fill="#0000ff"/>
<circle cx="443.34" cy="562.36" r="2.15" fill="#0000ff"/>
<circle cx="445.95" cy="563.5" r="2.15" fill="#0000ff"/>
<circle cx="443.01" cy="567.26" r="2.15" fill="#0000ff"/>
<text x="382" y="516.9" text-anchor="middle" font-size="9" font-weight="bold" fill="#111">3CLpro-On C-term QtoN</text>
<text x="369.1" y="642.8" text-anchor="middle" font-size="9" font-weight="bold" fill="#111">GC376 (µM)</text>
<line x1="526" y1="34" x2="526" y2="128.95" stroke="#1e1e1e" stroke-width="1.3"/>
<line x1="525.35" y1="128.3" x2="683.2" y2="128.3" stroke="#1e1e1e" stroke-width="1.3"/>
<line x1="523.1" y1="128.3" x2="526" y2="128.3" stroke="#1e1e1e" stroke-width="1.1"/>
<text x="520" y="131.5" text-anchor="end" font-size="9" fill="#222">0</text>
<line x1="523.1" y1="105.93" x2="526" y2="105.93" stroke="#1e1e1e" stroke-width="1.1"/>
<text x="520" y="109.13" text-anchor="end" font-size="9" fill="#222">500</text>
<line x1="523.1" y1="83.55" x2="526" y2="83.55" stroke="#1e1e1e" stroke-width="1.1"/>
<text x="520" y="86.75" text-anchor="end" font-size="9" fill="#222">1000</text>
<line x1="523.1" y1="61.17" x2="526" y2="61.17" stroke="#1e1e1e" stroke-width="1.1"/>
<text x="520" y="64.38" text-anchor="end" font-size="9" fill="#222">1500</text>
<line x1="523.1" y1="38.8" x2="526" y2="38.8" stroke="#1e1e1e" stroke-width="1.1"/>
<text x="520" y="42" text-anchor="end" font-size="9" fill="#222">2000</text>
<line x1="530.8" y1="128.3" x2="530.8" y2="130.6" stroke="#1e1e1e" stroke-width="1"/>
<text transform="translate(534 132.5) rotate(-90)" text-anchor="end" font-size="9" fill="#222">0</text>
<line x1="540.61" y1="128.3" x2="540.61" y2="130.6" stroke="#1e1e1e" stroke-width="1"/>
<text transform="translate(543.81 132.5) rotate(-90)" text-anchor="end" font-size="9" fill="#222">0,03</text>
<line x1="550.42" y1="128.3" x2="550.42" y2="130.6" stroke="#1e1e1e" stroke-width="1"/>
<text transform="translate(553.62 132.5) rotate(-90)" text-anchor="end" font-size="9" fill="#222">0,1</text>
<line x1="560.23" y1="128.3" x2="560.23" y2="130.6" stroke="#1e1e1e" stroke-width="1"/>
<text transform="translate(563.43 132.5) rotate(-90)" text-anchor="end" font-size="9" fill="#222">0,3</text>
<line x1="570.04" y1="128.3" x2="570.04" y2="130.6" stroke="#1e1e1e" stroke-width="1"/>
<text transform="translate(573.24 132.5) rotate(-90)" text-anchor="end" font-size="9" fill="#222">1</text>
<line x1="579.85" y1="128.3" x2="579.85" y2="130.6" stroke="#1e1e1e" stroke-width="1"/>
<text transform="translate(583.05 132.5) rotate(-90)" text-anchor="end" font-size="9" fill="#222">3</text>
<line x1="589.66" y1="128.3" x2="589.66" y2="130.6" stroke="#1e1e1e" stroke-width="1"/>
<text transform="translate(592.86 132.5) rotate(-90)" text-anchor="end" font-size="9" fill="#222">10</text>
<line x1="599.47" y1="128.3" x2="599.47" y2="130.6" stroke="#1e1e1e" stroke-width="1"/>
<text transform="translate(602.67 132.5) rotate(-90)" text-anchor="end" font-size="9" fill="#222">15</text>
<line x1="609.28" y1="128.3" x2="609.28" y2="130.6" stroke="#1e1e1e" stroke-width="1"/>
<text transform="translate(612.48 132.5) rotate(-90)" text-anchor="end" font-size="9" fill="#222">20</text>
<line x1="619.09" y1="128.3" x2="619.09" y2="130.6" stroke="#1e1e1e" stroke-width="1"/>
<text transform="translate(622.29 132.5) rotate(-90)" text-anchor="end" font-size="9" fill="#222">25</text>
<line x1="628.9" y1="128.3" x2="628.9" y2="130.6" stroke="#1e1e1e" stroke-width="1"/>
<text transform="translate(632.1 132.5) rotate(-90)" text-anchor="end" font-size="9" fill="#222">30</text>
<line x1="638.71" y1="128.3" x2="638.71" y2="130.6" stroke="#1e1e1e" stroke-width="1"/>
<text transform="translate(641.91 132.5) rotate(-90)" text-anchor="end" font-size="9" fill="#222">35</text>
<line x1="648.52" y1="128.3" x2="648.52" y2="130.6" stroke="#1e1e1e" stroke-width="1"/>
<text transform="translate(651.72 132.5) rotate(-90)" text-anchor="end" font-size="9" fill="#222">40</text>
<line x1="658.33" y1="128.3" x2="658.33" y2="130.6" stroke="#1e1e1e" stroke-width="1"/>
<text transform="translate(661.53 132.5) rotate(-90)" text-anchor="end" font-size="9" fill="#222">45</text>
<line x1="668.14" y1="128.3" x2="668.14" y2="130.6" stroke="#1e1e1e" stroke-width="1"/>
<text transform="translate(671.34 132.5) rotate(-90)" text-anchor="end" font-size="9" fill="#222">50</text>
<line x1="677.95" y1="128.3" x2="677.95" y2="130.6" stroke="#1e1e1e" stroke-width="1"/>
<text transform="translate(681.15 132.5) rotate(-90)" text-anchor="end" font-size="9" fill="#222">55</text>
<circle cx="529.5" cy="128.1" r="2.15" fill="#ff5f00"/>
<circle cx="530.8" cy="128.1" r="2.15" fill="#ff5f00"/>
<circle cx="532.1" cy="128.1" r="2.15" fill="#ff5f00"/>
<circle cx="539.31" cy="128.1" r="2.15" fill="#ff5f00"/>
<circle cx="540.61" cy="128.1" r="2.15" fill="#ff5f00"/>
<circle cx="541.91" cy="128.1" r="2.15" fill="#ff5f00"/>
<circle cx="549.12" cy="128.1" r="2.15" fill="#ff5f00"/>
<circle cx="550.42" cy="128.1" r="2.15" fill="#ff5f00"/>
<circle cx="551.72" cy="128.1" r="2.15" fill="#ff5f00"/>
<circle cx="558.93" cy="128.1" r="2.15" fill="#ff5f00"/>
<circle cx="560.23" cy="128.1" r="2.15" fill="#ff5f00"/>
<circle cx="561.53" cy="128.1" r="2.15" fill="#ff5f00"/>
<circle cx="568.74" cy="128.1" r="2.15" fill="#ff5f00"/>
<circle cx="570.04" cy="128.1" r="2.15" fill="#ff5f00"/>
<circle cx="571.34" cy="128.1" r="2.15" fill="#ff5f00"/>
<circle cx="578.55" cy="128.1" r="2.15" fill="#ff5f00"/>
<circle cx="579.85" cy="128.1" r="2.15" fill="#ff5f00"/>
<circle cx="581.15" cy="128.1" r="2.15" fill="#ff5f00"/>
<circle cx="588.36" cy="128.1" r="2.15" fill="#ff5f00"/>
<circle cx="589.66" cy="128.1" r="2.15" fill="#ff5f00"/>
<circle cx="590.96" cy="128.1" r="2.15" fill="#ff5f00"/>
<circle cx="598.17" cy="128.1" r="2.15" fill="#ff5f00"/>
<circle cx="599.47" cy="128.1" r="2.15" fill="#ff5f00"/>
<circle cx="600.77" cy="128.1" r="2.15" fill="#ff5f00"/>
<circle cx="607.98" cy="128.1" r="2.15" fill="#ff5f00"/>
<circle cx="609.28" cy="128.1" r="2.15" fill="#ff5f00"/>
<circle cx="610.58" cy="128.1" r="2.15" fill="#ff5f00"/>
<circle cx="617.79" cy="128.1" r="2.15" fill="#ff5f00"/>
<circle cx="619.09" cy="128.1" r="2.15" fill="#ff5f00"/>
<circle cx="620.39" cy="128.1" r="2.15" fill="#ff5f00"/>
<circle cx="627.6" cy="128.1" r="2.15" fill="#ff5f00"/>
<circle cx="628.9" cy="128.1" r="2.15" fill="#ff5f00"/>
<circle cx="630.2" cy="128.1" r="2.15" fill="#ff5f00"/>
<circle cx="637.41" cy="128.1" r="2.15" fill="#ff5f00"/>
<circle cx="638.71" cy="128.1" r="2.15" fill="#ff5f00"/>
<circle cx="640.01" cy="128.1" r="2.15" fill="#ff5f00"/>
<circle cx="647.22" cy="128.1" r="2.15" fill="#ff5f00"/>
<circle cx="648.52" cy="128.1" r="2.15" fill="#ff5f00"/>
<circle cx="649.82" cy="128.1" r="2.15" fill="#ff5f00"/>
<circle cx="657.03" cy="128.1" r="2.15" fill="#ff5f00"/>
<circle cx="658.33" cy="128.1" r="2.15" fill="#ff5f00"/>
<circle cx="659.63" cy="128.1" r="2.15" fill="#ff5f00"/>
<circle cx="666.84" cy="128.1" r="2.15" fill="#ff5f00"/>
<circle cx="668.14" cy="128.1" r="2.15" fill="#ff5f00"/>
<circle cx="669.44" cy="128.1" r="2.15" fill="#ff5f00"/>
<circle cx="676.65" cy="128.1" r="2.15" fill="#ff5f00"/>
<circle cx="677.95" cy="128.1" r="2.15" fill="#ff5f00"/>
<circle cx="679.25" cy="128.1" r="2.15" fill="#ff5f00"/>
<text x="602.5" y="23.8" text-anchor="middle" font-size="9" font-weight="bold" fill="#111">3CLpro-On</text>
<text x="599.3" y="158" text-anchor="middle" font-size="9.2" font-weight="bold" fill="#111">Boceprevir (µM)</text>
<text transform="translate(488 83) rotate(-90)" text-anchor="middle" font-size="9" font-weight="bold" fill="#111">fluorescent spots</text>
<rect x="527.55" y="203.41" width="5.5" height="88.09" fill="#fff" stroke="#1c1c1c" stroke-width="1.25"/>
<rect x="537.2" y="202.94" width="5.5" height="88.56" fill="#fff" stroke="#1c1c1c" stroke-width="1.25"/>
<rect x="546.85" y="204.34" width="5.5" height="87.16" fill="#fff" stroke="#1c1c1c" stroke-width="1.25"/>
<rect x="556.5" y="206.68" width="5.5" height="84.82" fill="#fff" stroke="#1c1c1c" stroke-width="1.25"/>
<rect x="566.15" y="208.43" width="5.5" height="83.07" fill="#fff" stroke="#1c1c1c" stroke-width="1.25"/>
<rect x="575.8" y="205.51" width="5.5" height="85.99" fill="#fff" stroke="#1c1c1c" stroke-width="1.25"/>
<rect x="585.45" y="206.68" width="5.5" height="84.82" fill="#fff" stroke="#1c1c1c" stroke-width="1.25"/>
<rect x="595.1" y="206.09" width="5.5" height="85.41" fill="#fff" stroke="#1c1c1c" stroke-width="1.25"/>
<rect x="604.75" y="204.31" width="5.5" height="87.19" fill="#fff" stroke="#1c1c1c" stroke-width="1.25"/>
<rect x="614.4" y="202.45" width="5.5" height="89.05" fill="#fff" stroke="#1c1c1c" stroke-width="1.25"/>
<rect x="624.05" y="201.82" width="5.5" height="89.68" fill="#fff" stroke="#1c1c1c" stroke-width="1.25"/>
<rect x="633.7" y="201.2" width="5.5" height="90.3" fill="#fff" stroke="#1c1c1c" stroke-width="1.25"/>
<rect x="643.35" y="203.07" width="5.5" height="88.43" fill="#fff" stroke="#1c1c1c" stroke-width="1.25"/>
<rect x="653" y="204.31" width="5.5" height="87.19" fill="#fff" stroke="#1c1c1c" stroke-width="1.25"/>
<rect x="662.65" y="206.17" width="5.5" height="85.33" fill="#fff" stroke="#1c1c1c" stroke-width="1.25"/>
<rect x="672.3" y="204.31" width="5.5" height="87.19" fill="#fff" stroke="#1c1c1c" stroke-width="1.25"/>
<line x1="525.6" y1="199.2" x2="525.6" y2="292.15" stroke="#1e1e1e" stroke-width="1.3"/>
<line x1="524.95" y1="291.5" x2="680.8" y2="291.5" stroke="#1e1e1e" stroke-width="1.3"/>
<line x1="522.7" y1="291.5" x2="525.6" y2="291.5" stroke="#1e1e1e" stroke-width="1.1"/>
<text x="519.6" y="294.7" text-anchor="end" font-size="9" fill="#222">0</text>
<line x1="522.7" y1="269.52" x2="525.6" y2="269.52" stroke="#1e1e1e" stroke-width="1.1"/>
<text x="519.6" y="272.72" text-anchor="end" font-size="9" fill="#222">500</text>
<line x1="522.7" y1="247.55" x2="525.6" y2="247.55" stroke="#1e1e1e" stroke-width="1.1"/>
<text x="519.6" y="250.75" text-anchor="end" font-size="9" fill="#222">1000</text>
<line x1="522.7" y1="225.57" x2="525.6" y2="225.57" stroke="#1e1e1e" stroke-width="1.1"/>
<text x="519.6" y="228.77" text-anchor="end" font-size="9" fill="#222">1500</text>
<line x1="522.7" y1="203.6" x2="525.6" y2="203.6" stroke="#1e1e1e" stroke-width="1.1"/>
<text x="519.6" y="206.8" text-anchor="end" font-size="9" fill="#222">2000</text>
<line x1="530.3" y1="291.5" x2="530.3" y2="293.8" stroke="#1e1e1e" stroke-width="1"/>
<text transform="translate(533.5 295.7) rotate(-90)" text-anchor="end" font-size="9" fill="#222">0</text>
<line x1="539.95" y1="291.5" x2="539.95" y2="293.8" stroke="#1e1e1e" stroke-width="1"/>
<text transform="translate(543.15 295.7) rotate(-90)" text-anchor="end" font-size="9" fill="#222">0,03</text>
<line x1="549.6" y1="291.5" x2="549.6" y2="293.8" stroke="#1e1e1e" stroke-width="1"/>
<text transform="translate(552.8 295.7) rotate(-90)" text-anchor="end" font-size="9" fill="#222">0,1</text>
<line x1="559.25" y1="291.5" x2="559.25" y2="293.8" stroke="#1e1e1e" stroke-width="1"/>
<text transform="translate(562.45 295.7) rotate(-90)" text-anchor="end" font-size="9" fill="#222">0,3</text>
<line x1="568.9" y1="291.5" x2="568.9" y2="293.8" stroke="#1e1e1e" stroke-width="1"/>
<text transform="translate(572.1 295.7) rotate(-90)" text-anchor="end" font-size="9" fill="#222">1</text>
<line x1="578.55" y1="291.5" x2="578.55" y2="293.8" stroke="#1e1e1e" stroke-width="1"/>
<text transform="translate(581.75 295.7) rotate(-90)" text-anchor="end" font-size="9" fill="#222">3</text>
<line x1="588.2" y1="291.5" x2="588.2" y2="293.8" stroke="#1e1e1e" stroke-width="1"/>
<text transform="translate(591.4 295.7) rotate(-90)" text-anchor="end" font-size="9" fill="#222">10</text>
<line x1="597.85" y1="291.5" x2="597.85" y2="293.8" stroke="#1e1e1e" stroke-width="1"/>
<text transform="translate(601.05 295.7) rotate(-90)" text-anchor="end" font-size="9" fill="#222">15</text>
<line x1="607.5" y1="291.5" x2="607.5" y2="293.8" stroke="#1e1e1e" stroke-width="1"/>
<text transform="translate(610.7 295.7) rotate(-90)" text-anchor="end" font-size="9" fill="#222">20</text>
<line x1="617.15" y1="291.5" x2="617.15" y2="293.8" stroke="#1e1e1e" stroke-width="1"/>
<text transform="translate(620.35 295.7) rotate(-90)" text-anchor="end" font-size="9" fill="#222">25</text>
<line x1="626.8" y1="291.5" x2="626.8" y2="293.8" stroke="#1e1e1e" stroke-width="1"/>
<text transform="translate(630 295.7) rotate(-90)" text-anchor="end" font-size="9" fill="#222">30</text>
<line x1="636.45" y1="291.5" x2="636.45" y2="293.8" stroke="#1e1e1e" stroke-width="1"/>
<text transform="translate(639.65 295.7) rotate(-90)" text-anchor="end" font-size="9" fill="#222">35</text>
<line x1="646.1" y1="291.5" x2="646.1" y2="293.8" stroke="#1e1e1e" stroke-width="1"/>
<text transform="translate(649.3 295.7) rotate(-90)" text-anchor="end" font-size="9" fill="#222">40</text>
<line x1="655.75" y1="291.5" x2="655.75" y2="293.8" stroke="#1e1e1e" stroke-width="1"/>
<text transform="translate(658.95 295.7) rotate(-90)" text-anchor="end" font-size="9" fill="#222">45</text>
<line x1="665.4" y1="291.5" x2="665.4" y2="293.8" stroke="#1e1e1e" stroke-width="1"/>
<text transform="translate(668.6 295.7) rotate(-90)" text-anchor="end" font-size="9" fill="#222">50</text>
<line x1="675.05" y1="291.5" x2="675.05" y2="293.8" stroke="#1e1e1e" stroke-width="1"/>
<text transform="translate(678.25 295.7) rotate(-90)" text-anchor="end" font-size="9" fill="#222">55</text>
<circle cx="529.26" cy="203.41" r="2.15" fill="#ff5f00"/>
<circle cx="531.01" cy="203.41" r="2.15" fill="#ff5f00"/>
<circle cx="532.41" cy="203.41" r="2.15" fill="#ff5f00"/>
<circle cx="539.18" cy="206.09" r="2.15" fill="#ff5f00"/>
<circle cx="540.93" cy="204.34" r="2.15" fill="#ff5f00"/>
<circle cx="542.1" cy="203.76" r="2.15" fill="#ff5f00"/>
<circle cx="549.69" cy="201.77" r="2.15" fill="#ff5f00"/>
<circle cx="548.53" cy="203.41" r="2.15" fill="#ff5f00"/>
<circle cx="551.45" cy="203.41" r="2.15" fill="#ff5f00"/>
<circle cx="557.87" cy="204.34" r="2.15" fill="#ff5f00"/>
<circle cx="561.14" cy="206.45" r="2.15" fill="#ff5f00"/>
<circle cx="558.1" cy="209.95" r="2.15" fill="#ff5f00"/>
<circle cx="567.8" cy="209.01" r="2.15" fill="#ff5f00"/>
<circle cx="569.55" cy="207.26" r="2.15" fill="#ff5f00"/>
<circle cx="570.72" cy="207.61" r="2.15" fill="#ff5f00"/>
<circle cx="578.89" cy="200.61" r="2.15" fill="#ff5f00"/>
<circle cx="577.49" cy="207.61" r="2.15" fill="#ff5f00"/>
<circle cx="580.06" cy="206.45" r="2.15" fill="#ff5f00"/>
<circle cx="587.07" cy="207.85" r="2.15" fill="#ff5f00"/>
<circle cx="588.82" cy="204.93" r="2.15" fill="#ff5f00"/>
<circle cx="589.99" cy="205.74" r="2.15" fill="#ff5f00"/>
<circle cx="598.16" cy="204.11" r="2.15" fill="#ff5f00"/>
<circle cx="596.99" cy="206.68" r="2.15" fill="#ff5f00"/>
<circle cx="599.33" cy="206.45" r="2.15" fill="#ff5f00"/>
<circle cx="606.82" cy="203.69" r="2.15" fill="#ff5f00"/>
<circle cx="608.69" cy="203.69" r="2.15" fill="#ff5f00"/>
<circle cx="607.45" cy="204.31" r="2.15" fill="#ff5f00"/>
<circle cx="617.99" cy="200.58" r="2.15" fill="#ff5f00"/>
<circle cx="616.13" cy="203.07" r="2.15" fill="#ff5f00"/>
<circle cx="617.37" cy="201.82" r="2.15" fill="#ff5f00"/>
<circle cx="626.06" cy="201.2" r="2.15" fill="#ff5f00"/>
<circle cx="627.92" cy="200.96" r="2.15" fill="#ff5f00"/>
<circle cx="629.16" cy="201.82" r="2.15" fill="#ff5f00"/>
<circle cx="635.36" cy="201.82" r="2.15" fill="#ff5f00"/>
<circle cx="637.23" cy="201.2" r="2.15" fill="#ff5f00"/>
<circle cx="638.47" cy="201.45" r="2.15" fill="#ff5f00"/>
<circle cx="645.29" cy="203.69" r="2.15" fill="#ff5f00"/>
<circle cx="646.53" cy="202.2" r="2.15" fill="#ff5f00"/>
<circle cx="647.77" cy="203.07" r="2.15" fill="#ff5f00"/>
<circle cx="654.6" cy="204.31" r="2.15" fill="#ff5f00"/>
<circle cx="656.46" cy="203.93" r="2.15" fill="#ff5f00"/>
<circle cx="657.33" cy="204.31" r="2.15" fill="#ff5f00"/>
<circle cx="664.52" cy="206.79" r="2.15" fill="#ff5f00"/>
<circle cx="665.76" cy="204.93" r="2.15" fill="#ff5f00"/>
<circle cx="667.01" cy="205.55" r="2.15" fill="#ff5f00"/>
<circle cx="675.07" cy="200.58" r="2.15" fill="#ff5f00"/>
<circle cx="673.83" cy="206.17" r="2.15" fill="#ff5f00"/>
<circle cx="676.68" cy="205.17" r="2.15" fill="#ff5f00"/>
<text x="607.9" y="192.3" text-anchor="middle" font-size="9" font-weight="bold" fill="#111">3CLpro-On N,C-term QtoN</text>
<text x="595.4" y="322" text-anchor="middle" font-size="9.2" font-weight="bold" fill="#111">Boceprevir (µM)</text>
<rect x="526.85" y="449.49" width="5.5" height="1.51" fill="#fff" stroke="#1c1c1c" stroke-width="1.25"/>
<rect x="536.82" y="449.49" width="5.5" height="1.51" fill="#fff" stroke="#1c1c1c" stroke-width="1.25"/>
<rect x="546.79" y="449.49" width="5.5" height="1.51" fill="#fff" stroke="#1c1c1c" stroke-width="1.25"/>
<rect x="556.76" y="449.49" width="5.5" height="1.51" fill="#fff" stroke="#1c1c1c" stroke-width="1.25"/>
<rect x="566.73" y="444.23" width="5.5" height="6.77" fill="#fff" stroke="#1c1c1c" stroke-width="1.25"/>
<rect x="576.7" y="444.23" width="5.5" height="6.77" fill="#fff" stroke="#1c1c1c" stroke-width="1.25"/>
<rect x="586.67" y="431.15" width="5.5" height="19.85" fill="#fff" stroke="#1c1c1c" stroke-width="1.25"/>
<rect x="596.64" y="421.46" width="5.5" height="29.54" fill="#fff" stroke="#1c1c1c" stroke-width="1.25"/>
<rect x="606.61" y="416.12" width="5.5" height="34.88" fill="#fff" stroke="#1c1c1c" stroke-width="1.25"/>
<rect x="616.58" y="406.2" width="5.5" height="44.8" fill="#fff" stroke="#1c1c1c" stroke-width="1.25"/>
<rect x="626.55" y="400.98" width="5.5" height="50.02" fill="#fff" stroke="#1c1c1c" stroke-width="1.25"/>
<rect x="636.52" y="394.16" width="5.5" height="56.84" fill="#fff" stroke="#1c1c1c" stroke-width="1.25"/>
<rect x="646.49" y="389.57" width="5.5" height="61.43" fill="#fff" stroke="#1c1c1c" stroke-width="1.25"/>
<rect x="656.46" y="391.68" width="5.5" height="59.32" fill="#fff" stroke="#1c1c1c" stroke-width="1.25"/>
<rect x="666.43" y="393.79" width="5.5" height="57.21" fill="#fff" stroke="#1c1c1c" stroke-width="1.25"/>
<rect x="676.4" y="393.54" width="5.5" height="57.46" fill="#fff" stroke="#1c1c1c" stroke-width="1.25"/>
<line x1="524.7" y1="355.3" x2="524.7" y2="451.65" stroke="#1e1e1e" stroke-width="1.3"/>
<line x1="524.05" y1="451" x2="686" y2="451" stroke="#1e1e1e" stroke-width="1.3"/>
<line x1="521.8" y1="451" x2="524.7" y2="451" stroke="#1e1e1e" stroke-width="1.1"/>
<text x="518.7" y="454.2" text-anchor="end" font-size="9" fill="#222">0</text>
<line x1="521.8" y1="428.32" x2="524.7" y2="428.32" stroke="#1e1e1e" stroke-width="1.1"/>
<text x="518.7" y="431.52" text-anchor="end" font-size="9" fill="#222">500</text>
<line x1="521.8" y1="405.65" x2="524.7" y2="405.65" stroke="#1e1e1e" stroke-width="1.1"/>
<text x="518.7" y="408.85" text-anchor="end" font-size="9" fill="#222">1000</text>
<line x1="521.8" y1="382.98" x2="524.7" y2="382.98" stroke="#1e1e1e" stroke-width="1.1"/>
<text x="518.7" y="386.18" text-anchor="end" font-size="9" fill="#222">1500</text>
<line x1="521.8" y1="360.3" x2="524.7" y2="360.3" stroke="#1e1e1e" stroke-width="1.1"/>
<text x="518.7" y="363.5" text-anchor="end" font-size="9" fill="#222">2000</text>
<line x1="529.6" y1="451" x2="529.6" y2="453.3" stroke="#1e1e1e" stroke-width="1"/>
<text transform="translate(532.8 455.7) rotate(-90)" text-anchor="end" font-size="9" fill="#222">0</text>
<line x1="539.57" y1="451" x2="539.57" y2="453.3" stroke="#1e1e1e" stroke-width="1"/>
<text transform="translate(542.77 455.7) rotate(-90)" text-anchor="end" font-size="9" fill="#222">0,03</text>
<line x1="549.54" y1="451" x2="549.54" y2="453.3" stroke="#1e1e1e" stroke-width="1"/>
<text transform="translate(552.74 455.7) rotate(-90)" text-anchor="end" font-size="9" fill="#222">0,1</text>
<line x1="559.51" y1="451" x2="559.51" y2="453.3" stroke="#1e1e1e" stroke-width="1"/>
<text transform="translate(562.71 455.7) rotate(-90)" text-anchor="end" font-size="9" fill="#222">0,3</text>
<line x1="569.48" y1="451" x2="569.48" y2="453.3" stroke="#1e1e1e" stroke-width="1"/>
<text transform="translate(572.68 455.7) rotate(-90)" text-anchor="end" font-size="9" fill="#222">1</text>
<line x1="579.45" y1="451" x2="579.45" y2="453.3" stroke="#1e1e1e" stroke-width="1"/>
<text transform="translate(582.65 455.7) rotate(-90)" text-anchor="end" font-size="9" fill="#222">3</text>
<line x1="589.42" y1="451" x2="589.42" y2="453.3" stroke="#1e1e1e" stroke-width="1"/>
<text transform="translate(592.62 455.7) rotate(-90)" text-anchor="end" font-size="9" fill="#222">10</text>
<line x1="599.39" y1="451" x2="599.39" y2="453.3" stroke="#1e1e1e" stroke-width="1"/>
<text transform="translate(602.59 455.7) rotate(-90)" text-anchor="end" font-size="9" fill="#222">15</text>
<line x1="609.36" y1="451" x2="609.36" y2="453.3" stroke="#1e1e1e" stroke-width="1"/>
<text transform="translate(612.56 455.7) rotate(-90)" text-anchor="end" font-size="9" fill="#222">20</text>
<line x1="619.33" y1="451" x2="619.33" y2="453.3" stroke="#1e1e1e" stroke-width="1"/>
<text transform="translate(622.53 455.7) rotate(-90)" text-anchor="end" font-size="9" fill="#222">25</text>
<line x1="629.3" y1="451" x2="629.3" y2="453.3" stroke="#1e1e1e" stroke-width="1"/>
<text transform="translate(632.5 455.7) rotate(-90)" text-anchor="end" font-size="9" fill="#222">30</text>
<line x1="639.27" y1="451" x2="639.27" y2="453.3" stroke="#1e1e1e" stroke-width="1"/>
<text transform="translate(642.47 455.7) rotate(-90)" text-anchor="end" font-size="9" fill="#222">35</text>
<line x1="649.24" y1="451" x2="649.24" y2="453.3" stroke="#1e1e1e" stroke-width="1"/>
<text transform="translate(652.44 455.7) rotate(-90)" text-anchor="end" font-size="9" fill="#222">40</text>
<line x1="659.21" y1="451" x2="659.21" y2="453.3" stroke="#1e1e1e" stroke-width="1"/>
<text transform="translate(662.41 455.7) rotate(-90)" text-anchor="end" font-size="9" fill="#222">45</text>
<line x1="669.18" y1="451" x2="669.18" y2="453.3" stroke="#1e1e1e" stroke-width="1"/>
<text transform="translate(672.38 455.7) rotate(-90)" text-anchor="end" font-size="9" fill="#222">50</text>
<line x1="679.15" y1="451" x2="679.15" y2="453.3" stroke="#1e1e1e" stroke-width="1"/>
<text transform="translate(682.35 455.7) rotate(-90)" text-anchor="end" font-size="9" fill="#222">55</text>
<circle cx="529.26" cy="448.91" r="2.15" fill="#ff5f00"/>
<circle cx="530.42" cy="448.67" r="2.15" fill="#ff5f00"/>
<circle cx="528.67" cy="449.14" r="2.15" fill="#ff5f00"/>
<circle cx="539.18" cy="449.14" r="2.15" fill="#ff5f00"/>
<circle cx="540.93" cy="448.32" r="2.15" fill="#ff5f00"/>
<circle cx="539.77" cy="448.91" r="2.15" fill="#ff5f00"/>
<circle cx="548.53" cy="449.84" r="2.15" fill="#ff5f00"/>
<circle cx="550.28" cy="447.74" r="2.15" fill="#ff5f00"/>
<circle cx="549.46" cy="448.91" r="2.15" fill="#ff5f00"/>
<circle cx="558.45" cy="448.91" r="2.15" fill="#ff5f00"/>
<circle cx="560.79" cy="447.5" r="2.15" fill="#ff5f00"/>
<circle cx="559.62" cy="448.32" r="2.15" fill="#ff5f00"/>
<circle cx="568.38" cy="445.99" r="2.15" fill="#ff5f00"/>
<circle cx="570.13" cy="443.07" r="2.15" fill="#ff5f00"/>
<circle cx="570.72" cy="443.65" r="2.15" fill="#ff5f00"/>
<circle cx="578.31" cy="444.23" r="2.15" fill="#ff5f00"/>
<circle cx="579.47" cy="443.07" r="2.15" fill="#ff5f00"/>
<circle cx="580.64" cy="443.65" r="2.15" fill="#ff5f00"/>
<circle cx="588.23" cy="433.14" r="2.15" fill="#ff5f00"/>
<circle cx="589.4" cy="429.64" r="2.15" fill="#ff5f00"/>
<circle cx="590.57" cy="430.22" r="2.15" fill="#ff5f00"/>
<circle cx="599.33" cy="414.8" r="2.15" fill="#ff5f00"/>
<circle cx="598.16" cy="425.55" r="2.15" fill="#ff5f00"/>
<circle cx="600.5" cy="423.21" r="2.15" fill="#ff5f00"/>
<circle cx="609.31" cy="412.77" r="2.15" fill="#ff5f00"/>
<circle cx="608.07" cy="417.74" r="2.15" fill="#ff5f00"/>
<circle cx="610.55" cy="417.12" r="2.15" fill="#ff5f00"/>
<circle cx="619.23" cy="401.61" r="2.15" fill="#ff5f00"/>
<circle cx="617.99" cy="407.81" r="2.15" fill="#ff5f00"/>
<circle cx="620.47" cy="407.81" r="2.15" fill="#ff5f00"/>
<circle cx="629.16" cy="398.25" r="2.15" fill="#ff5f00"/>
<circle cx="628.29" cy="401.98" r="2.15" fill="#ff5f00"/>
<circle cx="630.77" cy="400.36" r="2.15" fill="#ff5f00"/>
<circle cx="637.85" cy="391.68" r="2.15" fill="#ff5f00"/>
<circle cx="640.95" cy="392.55" r="2.15" fill="#ff5f00"/>
<circle cx="638.22" cy="397.01" r="2.15" fill="#ff5f00"/>
<circle cx="649.01" cy="387.34" r="2.15" fill="#ff5f00"/>
<circle cx="650.25" cy="388.58" r="2.15" fill="#ff5f00"/>
<circle cx="647.77" cy="391.68" r="2.15" fill="#ff5f00"/>
<circle cx="659.31" cy="385.85" r="2.15" fill="#ff5f00"/>
<circle cx="660.55" cy="391.68" r="2.15" fill="#ff5f00"/>
<circle cx="657.7" cy="395.77" r="2.15" fill="#ff5f00"/>
<circle cx="669.24" cy="388.33" r="2.15" fill="#ff5f00"/>
<circle cx="670.48" cy="394.78" r="2.15" fill="#ff5f00"/>
<circle cx="667.63" cy="396.64" r="2.15" fill="#ff5f00"/>
<circle cx="679.17" cy="391.68" r="2.15" fill="#ff5f00"/>
<circle cx="680.41" cy="392.92" r="2.15" fill="#ff5f00"/>
<circle cx="677.93" cy="394.78" r="2.15" fill="#ff5f00"/>
<text x="608.4" y="352" text-anchor="middle" font-size="9" font-weight="bold" fill="#111">3CLpro-On N-term QtoN</text>
<text x="596.2" y="483" text-anchor="middle" font-size="9.2" font-weight="bold" fill="#111">Boceprevir (µM)</text>
<line x1="524.3" y1="517.6" x2="524.3" y2="612.15" stroke="#1e1e1e" stroke-width="1.3"/>
<line x1="523.65" y1="611.5" x2="681" y2="611.5" stroke="#1e1e1e" stroke-width="1.3"/>
<line x1="521.4" y1="611.5" x2="524.3" y2="611.5" stroke="#1e1e1e" stroke-width="1.1"/>
<text x="518.3" y="614.7" text-anchor="end" font-size="9" fill="#222">0</text>
<line x1="521.4" y1="589.3" x2="524.3" y2="589.3" stroke="#1e1e1e" stroke-width="1.1"/>
<text x="518.3" y="592.5" text-anchor="end" font-size="9" fill="#222">500</text>
<line x1="521.4" y1="567.1" x2="524.3" y2="567.1" stroke="#1e1e1e" stroke-width="1.1"/>
<text x="518.3" y="570.3" text-anchor="end" font-size="9" fill="#222">1000</text>
<line x1="521.4" y1="544.9" x2="524.3" y2="544.9" stroke="#1e1e1e" stroke-width="1.1"/>
<text x="518.3" y="548.1" text-anchor="end" font-size="9" fill="#222">1500</text>
<line x1="521.4" y1="522.7" x2="524.3" y2="522.7" stroke="#1e1e1e" stroke-width="1.1"/>
<text x="518.3" y="525.9" text-anchor="end" font-size="9" fill="#222">2000</text>
<line x1="529" y1="611.5" x2="529" y2="613.8" stroke="#1e1e1e" stroke-width="1"/>
<text transform="translate(532.2 616) rotate(-90)" text-anchor="end" font-size="9" fill="#222">0</text>
<line x1="538.77" y1="611.5" x2="538.77" y2="613.8" stroke="#1e1e1e" stroke-width="1"/>
<text transform="translate(541.97 616) rotate(-90)" text-anchor="end" font-size="9" fill="#222">0,03</text>
<line x1="548.54" y1="611.5" x2="548.54" y2="613.8" stroke="#1e1e1e" stroke-width="1"/>
<text transform="translate(551.74 616) rotate(-90)" text-anchor="end" font-size="9" fill="#222">0,1</text>
<line x1="558.31" y1="611.5" x2="558.31" y2="613.8" stroke="#1e1e1e" stroke-width="1"/>
<text transform="translate(561.51 616) rotate(-90)" text-anchor="end" font-size="9" fill="#222">0,3</text>
<line x1="568.08" y1="611.5" x2="568.08" y2="613.8" stroke="#1e1e1e" stroke-width="1"/>
<text transform="translate(571.28 616) rotate(-90)" text-anchor="end" font-size="9" fill="#222">1</text>
<line x1="577.85" y1="611.5" x2="577.85" y2="613.8" stroke="#1e1e1e" stroke-width="1"/>
<text transform="translate(581.05 616) rotate(-90)" text-anchor="end" font-size="9" fill="#222">3</text>
<line x1="587.62" y1="611.5" x2="587.62" y2="613.8" stroke="#1e1e1e" stroke-width="1"/>
<text transform="translate(590.82 616) rotate(-90)" text-anchor="end" font-size="9" fill="#222">10</text>
<line x1="597.39" y1="611.5" x2="597.39" y2="613.8" stroke="#1e1e1e" stroke-width="1"/>
<text transform="translate(600.59 616) rotate(-90)" text-anchor="end" font-size="9" fill="#222">15</text>
<line x1="607.16" y1="611.5" x2="607.16" y2="613.8" stroke="#1e1e1e" stroke-width="1"/>
<text transform="translate(610.36 616) rotate(-90)" text-anchor="end" font-size="9" fill="#222">20</text>
<line x1="616.93" y1="611.5" x2="616.93" y2="613.8" stroke="#1e1e1e" stroke-width="1"/>
<text transform="translate(620.13 616) rotate(-90)" text-anchor="end" font-size="9" fill="#222">25</text>
<line x1="626.7" y1="611.5" x2="626.7" y2="613.8" stroke="#1e1e1e" stroke-width="1"/>
<text transform="translate(629.9 616) rotate(-90)" text-anchor="end" font-size="9" fill="#222">30</text>
<line x1="636.47" y1="611.5" x2="636.47" y2="613.8" stroke="#1e1e1e" stroke-width="1"/>
<text transform="translate(639.67 616) rotate(-90)" text-anchor="end" font-size="9" fill="#222">35</text>
<line x1="646.24" y1="611.5" x2="646.24" y2="613.8" stroke="#1e1e1e" stroke-width="1"/>
<text transform="translate(649.44 616) rotate(-90)" text-anchor="end" font-size="9" fill="#222">40</text>
<line x1="656.01" y1="611.5" x2="656.01" y2="613.8" stroke="#1e1e1e" stroke-width="1"/>
<text transform="translate(659.21 616) rotate(-90)" text-anchor="end" font-size="9" fill="#222">45</text>
<line x1="665.78" y1="611.5" x2="665.78" y2="613.8" stroke="#1e1e1e" stroke-width="1"/>
<text transform="translate(668.98 616) rotate(-90)" text-anchor="end" font-size="9" fill="#222">50</text>
<line x1="675.55" y1="611.5" x2="675.55" y2="613.8" stroke="#1e1e1e" stroke-width="1"/>
<text transform="translate(678.75 616) rotate(-90)" text-anchor="end" font-size="9" fill="#222">55</text>
<circle cx="527.7" cy="611.3" r="2.15" fill="#ff5f00"/>
<circle cx="529" cy="611.3" r="2.15" fill="#ff5f00"/>
<circle cx="530.3" cy="611.3" r="2.15" fill="#ff5f00"/>
<circle cx="537.47" cy="611.3" r="2.15" fill="#ff5f00"/>
<circle cx="538.77" cy="611.3" r="2.15" fill="#ff5f00"/>
<circle cx="540.07" cy="611.3" r="2.15" fill="#ff5f00"/>
<circle cx="547.24" cy="611.3" r="2.15" fill="#ff5f00"/>
<circle cx="548.54" cy="611.3" r="2.15" fill="#ff5f00"/>
<circle cx="549.84" cy="611.3" r="2.15" fill="#ff5f00"/>
<circle cx="557.01" cy="611.3" r="2.15" fill="#ff5f00"/>
<circle cx="558.31" cy="611.3" r="2.15" fill="#ff5f00"/>
<circle cx="559.61" cy="611.3" r="2.15" fill="#ff5f00"/>
<circle cx="566.78" cy="611.3" r="2.15" fill="#ff5f00"/>
<circle cx="568.08" cy="611.3" r="2.15" fill="#ff5f00"/>
<circle cx="569.38" cy="611.3" r="2.15" fill="#ff5f00"/>
<circle cx="576.55" cy="611.3" r="2.15" fill="#ff5f00"/>
<circle cx="577.85" cy="611.3" r="2.15" fill="#ff5f00"/>
<circle cx="579.15" cy="611.3" r="2.15" fill="#ff5f00"/>
<circle cx="586.32" cy="611.3" r="2.15" fill="#ff5f00"/>
<circle cx="587.62" cy="611.3" r="2.15" fill="#ff5f00"/>
<circle cx="588.92" cy="611.3" r="2.15" fill="#ff5f00"/>
<circle cx="596.09" cy="611.3" r="2.15" fill="#ff5f00"/>
<circle cx="597.39" cy="611.3" r="2.15" fill="#ff5f00"/>
<circle cx="598.69" cy="611.3" r="2.15" fill="#ff5f00"/>
<circle cx="605.86" cy="611.3" r="2.15" fill="#ff5f00"/>
<circle cx="607.16" cy="611.3" r="2.15" fill="#ff5f00"/>
<circle cx="608.46" cy="611.3" r="2.15" fill="#ff5f00"/>
<circle cx="615.63" cy="611.3" r="2.15" fill="#ff5f00"/>
<circle cx="616.93" cy="611.3" r="2.15" fill="#ff5f00"/>
<circle cx="618.23" cy="611.3" r="2.15" fill="#ff5f00"/>
<circle cx="625.4" cy="611.3" r="2.15" fill="#ff5f00"/>
<circle cx="626.7" cy="611.3" r="2.15" fill="#ff5f00"/>
<circle cx="628" cy="611.3" r="2.15" fill="#ff5f00"/>
<circle cx="635.17" cy="611.3" r="2.15" fill="#ff5f00"/>
<circle cx="636.47" cy="611.3" r="2.15" fill="#ff5f00"/>
<circle cx="637.77" cy="611.3" r="2.15" fill="#ff5f00"/>
<circle cx="644.94" cy="611.3" r="2.15" fill="#ff5f00"/>
<circle cx="646.24" cy="611.3" r="2.15" fill="#ff5f00"/>
<circle cx="647.54" cy="611.3" r="2.15" fill="#ff5f00"/>
<circle cx="654.71" cy="611.3" r="2.15" fill="#ff5f00"/>
<circle cx="656.01" cy="611.3" r="2.15" fill="#ff5f00"/>
<circle cx="657.31" cy="611.3" r="2.15" fill="#ff5f00"/>
<circle cx="664.48" cy="611.3" r="2.15" fill="#ff5f00"/>
<circle cx="665.78" cy="611.3" r="2.15" fill="#ff5f00"/>
<circle cx="667.08" cy="611.3" r="2.15" fill="#ff5f00"/>
<circle cx="674.25" cy="611.3" r="2.15" fill="#ff5f00"/>
<circle cx="675.55" cy="611.3" r="2.15" fill="#ff5f00"/>
<circle cx="676.85" cy="611.3" r="2.15" fill="#ff5f00"/>
<text x="606.6" y="517.5" text-anchor="middle" font-size="9" font-weight="bold" fill="#111">3CLpro-On C-term QtoN</text>
<text x="596" y="643" text-anchor="middle" font-size="9.2" font-weight="bold" fill="#111">Boceprevir (µM)</text>
</svg>
</body></html>
